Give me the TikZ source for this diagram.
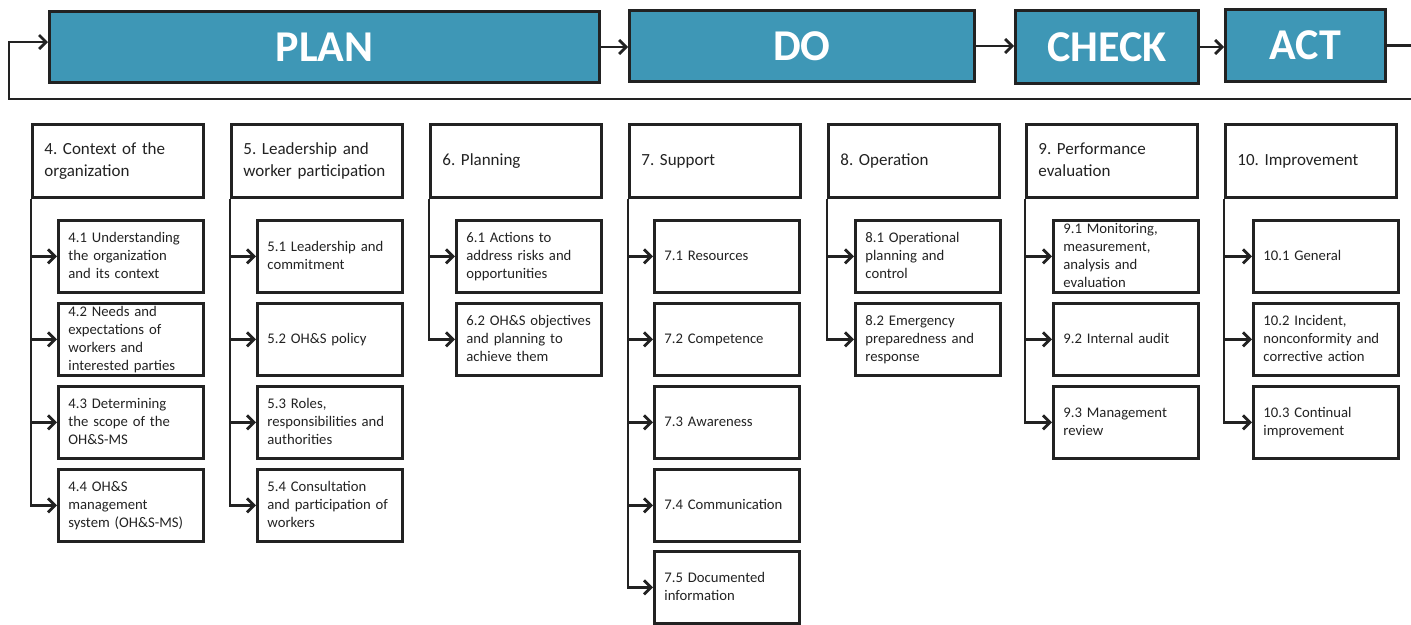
\documentclass[tikz,border=0pt]{standalone}
\usepackage{fontspec}
\setmainfont{Carlito}
\usetikzlibrary{arrows.meta}
\definecolor{ink}{RGB}{34,34,34}
\definecolor{phasefill}{RGB}{62,151,182}
% a block of lines set flush left, never re-broken
\newcommand{\lines}[1]{\begin{tabular}{@{}l@{}}#1\end{tabular}}
\begin{document}
\begin{tikzpicture}[x=1pt,y=-1pt]
\tikzset{
  phase/.style={draw=ink, fill=phasefill, line width=3pt, text=white, anchor=north west,
    inner sep=0pt, font=\fontsize{44}{50}\selectfont\bfseries},
  clause/.style={draw=ink, line width=2.8pt, anchor=north west, minimum width=171pt,
    minimum height=73pt, text width=147pt, align=left, inner sep=0pt, text=ink,
    font=\fontsize{17}{21.6}\selectfont\frenchspacing},
  sub/.style={draw=ink, line width=2.8pt, anchor=north west, minimum width=145pt,
    minimum height=72pt, text width=125pt, align=left, inner sep=0pt, text=ink,
    font=\fontsize{14.7}{18}\selectfont\frenchspacing},
  link/.style={draw=ink, line width=2.8pt, -{Straight Barb[length=7pt,width=14pt]}},
  spine/.style={draw=ink, line width=2.8pt},
}
\useasboundingbox (0,0) rectangle (1411,624);

% PDCA phases
\node[phase, minimum width=550pt, minimum height=71pt] (plan) at (48,10) {PLAN};
\node[phase, minimum width=345pt, minimum height=71pt] (do) at (628,9) {DO};
\node[phase, minimum width=183pt, minimum height=73pt] (check) at (1014,9) {CHECK};
\node[phase, minimum width=160pt, minimum height=72pt] (act) at (1224,8) {ACT};

\draw[link] (plan.east) -- (plan.east -| do.west);
\draw[link] (do.east) -- (do.east -| check.west);
\draw[link] (check.east) -- (check.east -| act.west);

% return path back to PLAN
\coordinate (edgeA) at (1411,46);
\coordinate (loopR) at (1411,99);
\coordinate (loopL) at (9,99);
\draw[spine] (act.east) -- (act.east -| edgeA);
\draw[link] (loopR) -- (loopL) |- ([yshift=5pt]plan.west);

% clause headings
\node[clause] (h4) at (31,123) {\lines{4. Context of the\\organization}};
\node[clause] (h5) at (230,123) {\lines{5. Leadership and\\worker participation}};
\node[clause] (h6) at (429,123) {\lines{6. Planning}};
\node[clause] (h7) at (628,123) {\lines{7. Support}};
\node[clause] (h8) at (827,123) {\lines{8. Operation}};
\node[clause] (h9) at (1025,123) {\lines{9. Performance\\evaluation}};
\node[clause] (h10) at (1224,123) {\lines{10. Improvement}};

% clause 4
\node[sub] (s41) at (57,219) {\lines{4.1 Understanding\\the organization\\and its context}};
\node[sub] (s42) at (57,302) {\lines{4.2 Needs and\\expectations of\\workers and\\interested parties}};
\node[sub] (s43) at (57,385) {\lines{4.3 Determining\\the scope of the\\OH\&S-MS}};
\node[sub] (s44) at (57,468) {\lines{4.4 OH\&S\\management\\system (OH\&S-MS)}};
% clause 5
\node[sub] (s51) at (256,219) {\lines{5.1 Leadership and\\commitment}};
\node[sub] (s52) at (256,302) {\lines{5.2 OH\&S policy}};
\node[sub] (s53) at (256,385) {\lines{5.3 Roles,\\responsibilities and\\authorities}};
\node[sub] (s54) at (256,468) {\lines{5.4 Consultation\\and participation of\\workers}};
% clause 6
\node[sub] (s61) at (455,219) {\lines{6.1 Actions to\\address risks and\\opportunities}};
\node[sub] (s62) at (455,302) {\lines{6.2 OH\&S objectives\\and planning to\\achieve them}};
% clause 7
\node[sub] (s71) at (653,219) {\lines{7.1 Resources}};
\node[sub] (s72) at (653,302) {\lines{7.2 Competence}};
\node[sub] (s73) at (653,385) {\lines{7.3 Awareness}};
\node[sub] (s74) at (653,468) {\lines{7.4 Communication}};
\node[sub] (s75) at (653,550) {\lines{7.5 Documented\\information}};
% clause 8
\node[sub] (s81) at (854,219) {\lines{8.1 Operational\\planning and\\control}};
\node[sub] (s82) at (854,302) {\lines{8.2 Emergency\\preparedness and\\response}};
% clause 9
\node[sub] (s91) at (1052,219) {\lines{9.1 Monitoring,\\measurement,\\analysis and\\evaluation}};
\node[sub] (s92) at (1052,302) {\lines{9.2 Internal audit}};
\node[sub] (s93) at (1052,385) {\lines{9.3 Management\\review}};
% clause 10
\node[sub] (s101) at (1252,219) {\lines{10.1 General}};
\node[sub] (s102) at (1252,302) {\lines{10.2 Incident,\\nonconformity and\\corrective action}};
\node[sub] (s103) at (1252,385) {\lines{10.3 Continual\\improvement}};

% spines from each heading to its subclauses
\draw[link] (h4.south west) |- (s44.west);
\foreach \s in {s41,s42,s43} \draw[link] (h4.south west |- \s.west) -- (\s.west);
\draw[link] (h5.south west) |- (s54.west);
\foreach \s in {s51,s52,s53} \draw[link] (h5.south west |- \s.west) -- (\s.west);
\draw[link] (h6.south west) |- (s62.west);
\draw[link] (h6.south west |- s61.west) -- (s61.west);
\draw[link] (h7.south west) |- (s75.west);
\foreach \s in {s71,s72,s73,s74} \draw[link] (h7.south west |- \s.west) -- (\s.west);
\draw[link] (h8.south west) |- (s82.west);
\draw[link] (h8.south west |- s81.west) -- (s81.west);
\draw[link] (h9.south west) |- (s93.west);
\foreach \s in {s91,s92} \draw[link] (h9.south west |- \s.west) -- (\s.west);
\draw[link] (h10.south west) |- (s103.west);
\foreach \s in {s101,s102} \draw[link] (h10.south west |- \s.west) -- (\s.west);
\end{tikzpicture}
\end{document}
